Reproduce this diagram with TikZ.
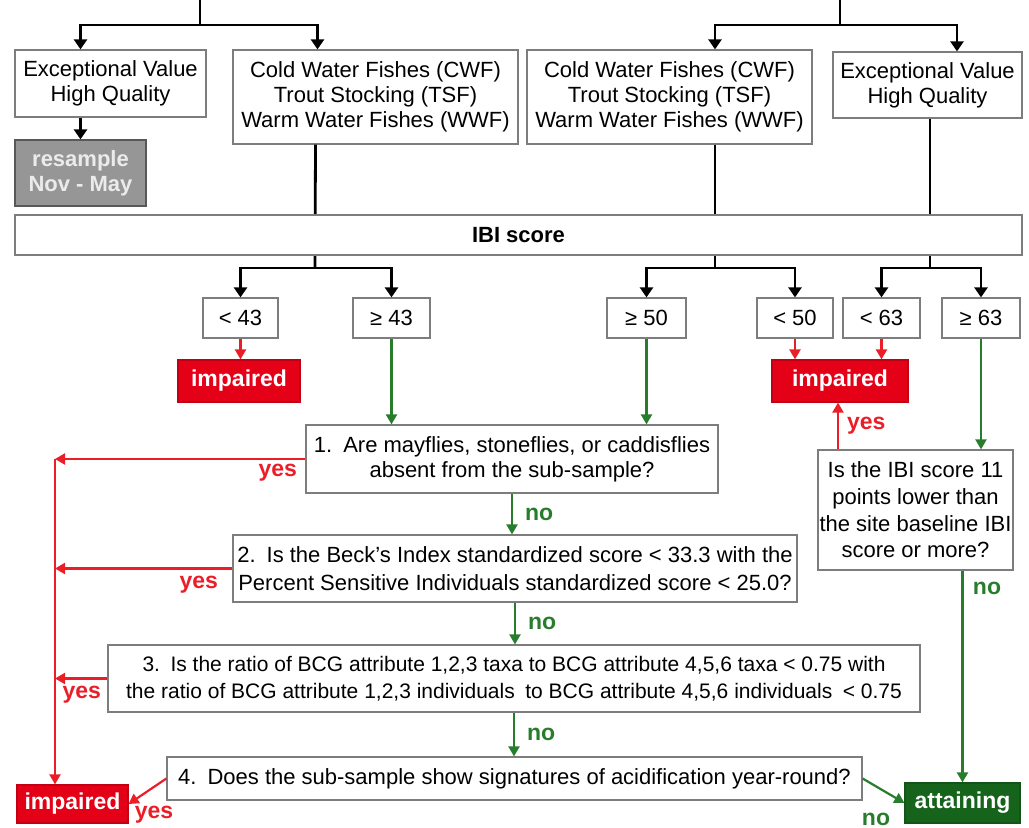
\documentclass[tikz,border=0pt]{standalone}
\usepackage{fontspec}
\setmainfont{Liberation Sans}
\usetikzlibrary{arrows.meta,calc,positioning}
\definecolor{impRed}{RGB}{228,0,22}
\definecolor{lineRed}{RGB}{235,30,40}
\definecolor{lineGreen}{RGB}{40,125,45}
\definecolor{attGreen}{RGB}{22,100,28}
\definecolor{boxGray}{RGB}{125,125,125}
\definecolor{resGray}{RGB}{150,150,150}

\begin{document}
\begin{tikzpicture}
[x=0.5pt,y=-0.5pt,
box/.style={draw=boxGray,line width=0.6pt,fill=white,align=center,inner sep=0pt,font=\fontsize{11}{12.5}\selectfont},
boxSize/.style 2 args={minimum width=#1*0.5pt,minimum height=#2*0.5pt},
resBox/.style={box,fill=resGray,draw=boxGray!70!black,text=white!92!black,font=\bfseries\fontsize{11}{12.5}\selectfont},
redBox/.style={box,fill=impRed,draw=impRed!85!black,text=white,font=\bfseries\fontsize{11.5}{13}\selectfont},
greenBox/.style={box,fill=attGreen,draw=attGreen!85!black,text=white,font=\bfseries\fontsize{11.5}{13}\selectfont},
blackLine/.style={line width=1.4pt},
blackEdge/.style={blackLine,-{Triangle[length=5pt,width=6.5pt]}},
redEdge/.style={line width=1.1pt,lineRed,-{Triangle[length=5pt,width=5.5pt]}},
greenEdge/.style={line width=1.1pt,lineGreen,-{Triangle[length=5pt,width=5.5pt]}},
yesLabel/.style={text=lineRed,inner sep=1pt,font=\bfseries\fontsize{11.5}{13}\selectfont},
noLabel/.style={text=lineGreen,inner sep=1pt,font=\bfseries\fontsize{11.5}{13}\selectfont}]
\useasboundingbox (0,0) rectangle (1029,828);
% designated uses
\node[box,boxSize={191}{67}] (evL) at (110.5,83.5) {Exceptional Value\\High Quality};
\node[box,boxSize={285}{94}] (cwfL) at (375.5,97) {Cold Water Fishes (CWF)\\Trout Stocking (TSF)\\Warm Water Fishes (WWF)};
\node[resBox,boxSize={131}{66}] (res) at (80.5,173) {resample\\Nov - May};
\node[box,boxSize={285}{94}] (cwfR) at (669.5,97) {Cold Water Fishes (CWF)\\Trout Stocking (TSF)\\Warm Water Fishes (WWF)};
\node[box,boxSize={189}{66}] (evR) at (927.5,85) {Exceptional Value\\High Quality};
% thresholds
\node[box,boxSize={75}{40}] (lt43) at (240.5,318) {< 43};
\node[box,boxSize={77}{40}] (ge43) at (391.5,318) {≥ 43};
\node[box,boxSize={79}{40}] (ge50) at (646.5,318) {≥ 50};
\node[box,boxSize={76}{40}] (lt50) at (795,318) {< 50};
\node[box,boxSize={77}{40}] (lt63) at (881.5,318) {< 63};
\node[box,boxSize={78}{40}] (ge63) at (981,318) {≥ 63};
\node[redBox,boxSize={122}{42}] (impL) at (239,381) {impaired};
\node[redBox,boxSize={136}{42}] (impM) at (840,381) {impaired};
% questions
\node[box,boxSize={412}{68}] (q1) at (512,459) {1.\enspace Are mayflies, stoneflies, or caddisflies\\absent from the sub-sample?};
\node[box,boxSize={564}{67},font=\fontsize{11}{14}\selectfont] (q2) at (515,568.5) {2.\enspace Is the Beck’s Index standardized score < 33.3 with the\\Percent Sensitive Individuals standardized score < 25.0?};
\node[box,boxSize={812}{67},font=\fontsize{10.5}{13.5}\selectfont] (q3) at (514,678.5) {3.\enspace Is the ratio of BCG attribute 1,2,3 taxa to BCG attribute 4,5,6 taxa < 0.75 with\\the ratio of BCG attribute 1,2,3 individuals\enspace to BCG attribute 4,5,6 individuals\enspace < 0.75};
\node[box,boxSize={695}{43}] (q4) at (514.5,778.5) {4.\enspace Does the sub-sample show signatures of acidification year-round?};
\node[box,boxSize={195}{120},font=\fontsize{11}{13.3}\selectfont] (qR) at (915.5,510) {Is the IBI score 11\\points lower than\\the site baseline IBI\\score or more?};
\node[redBox,boxSize={111}{38}] (impB) at (72.5,804) {impaired};
\node[greenBox,boxSize={115}{40}] (att) at (962.5,803) {attaining};
% black branches
\coordinate (topL) at (200,0);
\coordinate (topLsplit) at (200,25);
\coordinate (topR) at (840,0);
\coordinate (topRsplit) at (840,25);
\draw[blackLine] (topL) -- (topLsplit);
\draw[blackEdge] (topLsplit) -| ([xshift=-15pt]evL.north);
\draw[blackEdge] (topLsplit) -| ([xshift=-29pt]cwfL.north);
\draw[blackEdge] ([xshift=-15pt]evL.south) -- (res);
\draw[blackLine] (topR) -- (topRsplit);
\draw[blackEdge] (topRsplit) -| ([xshift=22.75pt]cwfR.north);
\draw[blackEdge] (topRsplit) -| ([xshift=14.75pt]evR.north);
\coordinate (splitL) at (315,268);
\coordinate (splitM) at (715,268);
\coordinate (splitR) at (930,268);
\draw[blackLine] ([xshift=-30pt]cwfL.south) -- (splitL);
\draw[blackEdge] (splitL) -| (lt43);
\draw[blackEdge] (splitL) -| (ge43);
\draw[blackLine] ([xshift=22.75pt]cwfR.south) -- (splitM);
\draw[blackEdge] (splitM) -| (ge50);
\draw[blackEdge] (splitM) -| (lt50);
\draw[blackLine] ([xshift=1.25pt]evR.south) -- (splitR);
\draw[blackEdge] (splitR) -| (lt63);
\draw[blackEdge] (splitR) -| (ge63);
\node[box,boxSize={1007}{40},font=\bfseries\fontsize{11}{12.5}\selectfont] (ibi) at (518.5,235) {IBI score};
% red and green outcomes
\draw[redEdge] (lt43) -- (lt43 |- impL.north);
\draw[redEdge] (lt50) -- (lt50 |- impM.north);
\draw[redEdge] (lt63) -- (lt63 |- impM.north);
\draw[greenEdge] (ge43) -- (ge43 |- q1.north);
\draw[greenEdge] (ge50) -- (ge50 |- q1.north);
\draw[greenEdge] (ge63) -- (ge63 |- qR.north);
\coordinate (rail) at (55,459);
\draw[redEdge] (q1.west) -- (rail);
\draw[redEdge] (rail) -- (rail |- impB.north);
\draw[redEdge] (q2.west) -- (q2.west -| rail);
\draw[redEdge] (q3.west) -- (q3.west -| rail);
\node[yesLabel,below left=1.5pt and 3pt of q1.west] (yes1) {yes};
\node[yesLabel,below left=2.5pt and 6pt of q2.west] (yes2) {yes};
\node[yesLabel,below left=2.5pt and 2pt of q3.west] (yes3) {yes};
\draw[greenEdge] (q1.south) -- (q1.south |- q2.north) node[noLabel,midway,right=5pt] (no1) {no};
\draw[greenEdge] (q2.south) -- (q2.south |- q3.north) node[noLabel,midway,right=5pt] (no2) {no};
\draw[greenEdge] (q3.south) -- (q3.south |- q4.north) node[noLabel,midway,right=5pt] (no3) {no};
\draw[redEdge] (q4.west) -- (impB.east);
\node[yesLabel] (yes4) at (154,815) {yes};
\draw[greenEdge] (q4.east) -- (att.west);
\node[noLabel] (no4) at (876,819) {no};
\coordinate (qRup) at ([xshift=-38.75pt]qR.north);
\draw[redEdge] (qRup) -- (qRup |- impM.south) node[yesLabel,midway,right=3pt] (yes5) {yes};
\draw[greenEdge] (att |- qR.south) -- (att.north);
\node[noLabel] (no5) at (987,588) {no};
\end{tikzpicture}
\end{document}
